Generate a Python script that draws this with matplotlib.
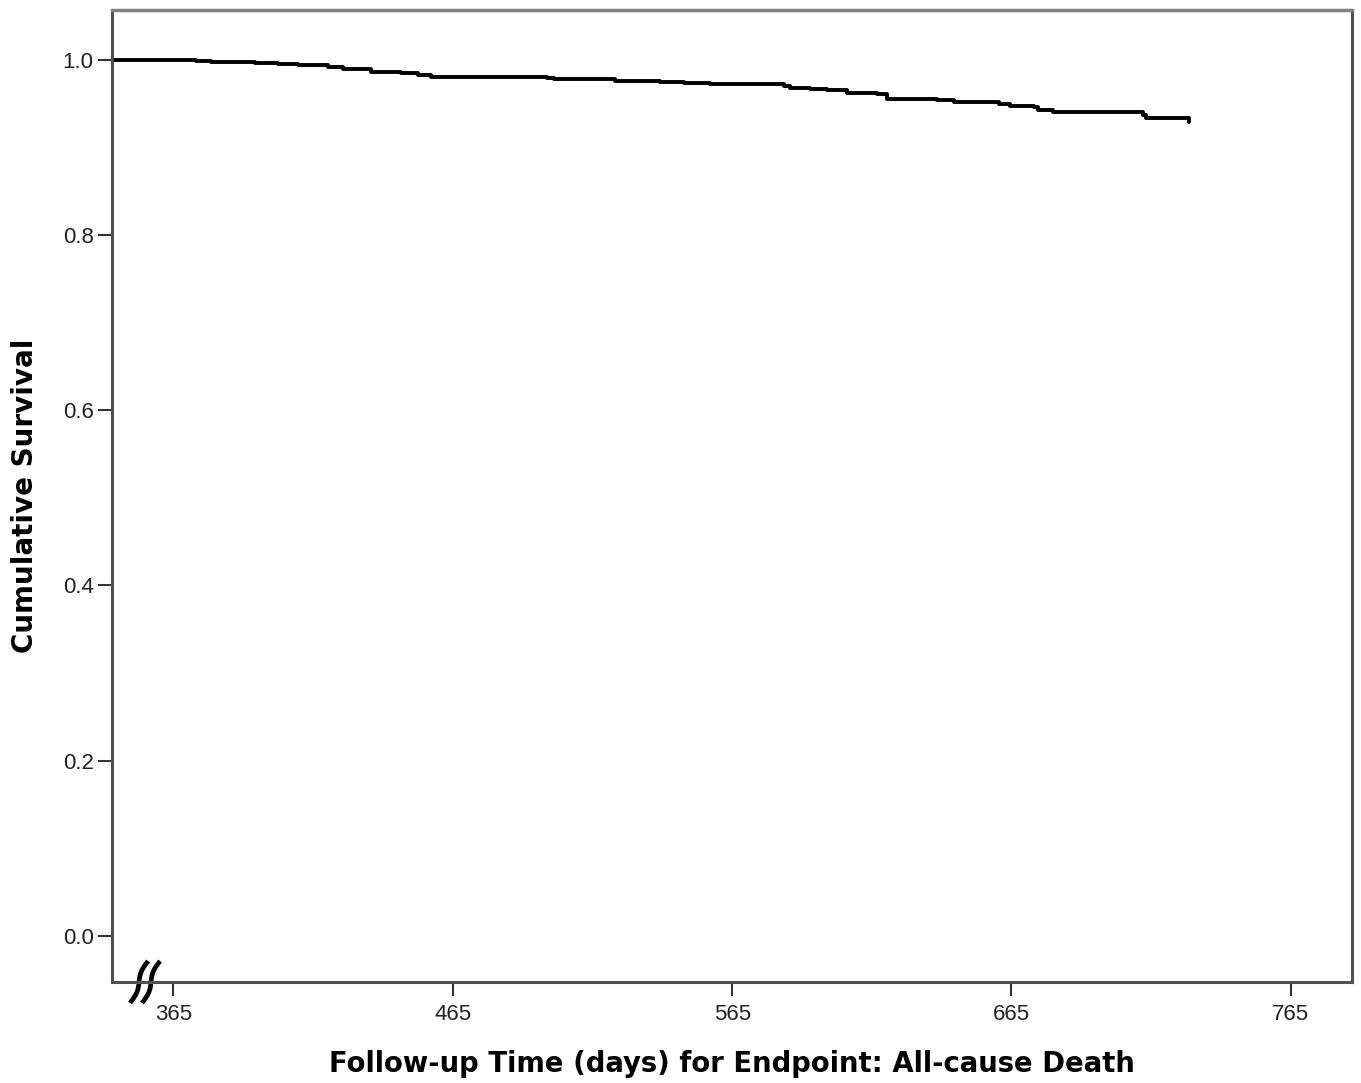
import numpy as np
import matplotlib
matplotlib.use("Agg")
import matplotlib.pyplot as plt

# Kaplan-Meier style step data (days, cumulative survival)
days = [342.9, 372.9, 378.6, 394.3, 402.5, 409.6, 420.4, 425.7, 435.7, 446.4,
        452.5, 457.1, 498.9, 501.4, 522.9, 539.3, 547.9, 557.1, 580.0, 583.6,
        585.7, 592.9, 598.9, 606.1, 616.8, 620.4, 638.2, 644.3, 655.0, 660.7,
        664.3, 672.9, 674.6, 680.0, 706.1, 712.1, 713.2, 726.4, 728.6]
survival = [1.0, 0.9986, 0.9971, 0.9960, 0.9949, 0.9937, 0.9914, 0.9892, 0.9857, 0.9846,
            0.9823, 0.9800, 0.9789, 0.9774, 0.9758, 0.9743, 0.9735, 0.9724, 0.9717, 0.9697,
            0.9680, 0.9663, 0.9652, 0.9623, 0.9606, 0.9546, 0.9538, 0.9520, 0.9515, 0.9492,
            0.9469, 0.9458, 0.9424, 0.9401, 0.9401, 0.9366, 0.9332, 0.9332, 0.9286]

x_ticks = [365, 465, 565, 665, 765]
y_ticks = [0.0, 0.2, 0.4, 0.6, 0.8, 1.0]
y_tick_labels = ["0.0", "0.2", "0.4", "0.6", "0.8", "1.0"]
x_label = "Follow-up Time (days) for Endpoint: All-cause Death"
y_label = "Cumulative Survival"

W, H = 1361, 1083
fig = plt.figure(figsize=(W / 100, H / 100), dpi=100)
ax = fig.add_axes([111.7 / W, (H - 982) / H, 1240.3 / W, 972 / H])

ax.plot(days, survival, drawstyle="steps-post", color="black", lw=2.8,
        solid_joinstyle="round", solid_capstyle="round")

ax.set_xlim(342.9, 786.9)
ax.set_ylim(-0.0525, 1.0565)
ax.set_xticks(x_ticks)
ax.set_xticklabels([str(t) for t in x_ticks])
ax.set_yticks(y_ticks)
ax.set_yticklabels(y_tick_labels)

for lab in ax.get_xticklabels() + ax.get_yticklabels():
    lab.set_fontfamily(["Liberation Sans", "DejaVu Sans"])
    lab.set_fontsize(16)
    lab.set_color("#222222")
ax.tick_params(axis="both", direction="out", length=10, width=1.5, color="#333333")
ax.tick_params(axis="x", pad=6)
ax.tick_params(axis="y", pad=3)

for side, sp in ax.spines.items():
    sp.set_linewidth(2.2)
    sp.set_color("#505050")
ax.spines["top"].set_color("#808080")
ax.spines["top"].set_linewidth(2.5)

ax.set_xlabel(x_label, fontsize=19.8, fontweight="bold",
              family=["DejaVu Sans"], labelpad=18)
ax.set_ylabel(y_label, fontsize=20, fontweight="bold",
              family=["DejaVu Sans"], labelpad=17)

# axis break marks (two curved slashes) at bottom-left
t = np.linspace(0, 1, 40)
for x0 in [0.01475, 0.0244]:
    x1 = x0 + 0.0146
    y0, y1 = -0.0216, 0.0216
    xs = x0 + (x1 - x0) * t + 0.0018 * np.sin(2 * np.pi * t)
    ys = y0 + (y1 - y0) * t
    ax.plot(xs, ys, transform=ax.transAxes, color="black", lw=3.4,
            clip_on=False, solid_capstyle="butt")

fig.savefig("out.png", dpi=100)
